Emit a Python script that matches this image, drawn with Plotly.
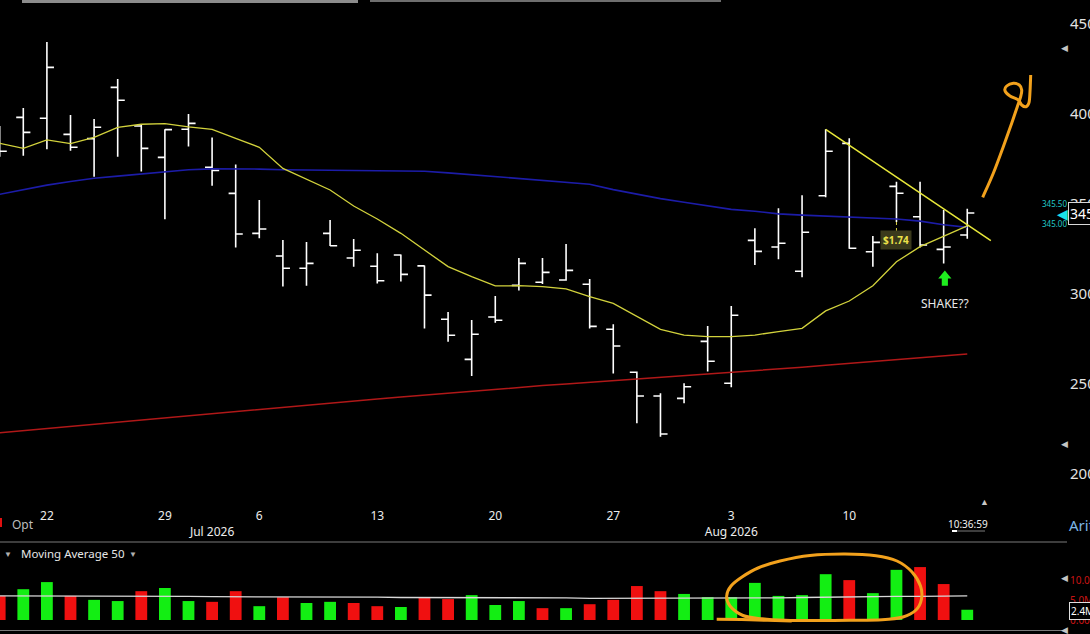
import plotly.graph_objects as go

# ---------------- data ----------------
dates = ["2026-06-17", "2026-06-18", "2026-06-22", "2026-06-23", "2026-06-24", "2026-06-25",
         "2026-06-26", "2026-06-29", "2026-06-30", "2026-07-01", "2026-07-02", "2026-07-06",
         "2026-07-07", "2026-07-08", "2026-07-09", "2026-07-10", "2026-07-13", "2026-07-14",
         "2026-07-15", "2026-07-16", "2026-07-17", "2026-07-20", "2026-07-21", "2026-07-22",
         "2026-07-23", "2026-07-24", "2026-07-27", "2026-07-28", "2026-07-29", "2026-07-30",
         "2026-07-31", "2026-08-03", "2026-08-04", "2026-08-05", "2026-08-06", "2026-08-07",
         "2026-08-10", "2026-08-11", "2026-08-12", "2026-08-13", "2026-08-14", "2026-08-17"]

opens = [387.0, 398.1, 397.6, 388.7, 386.3, 414.8, 393.3, 375.9, 391.5, 370.4, 355.9, 333.7,
         321.1, 314.3, 333.7, 320.0, 315.4, 321.7, 315.6, 286.0, 263.7, 287.2, 304.8, 306.5,
         307.8, 305.4, 280.4, 256.5, 243.3, 242.0, 273.7, 250.4, 329.8, 326.1, 312.6, 354.6,
         383.7, 323.5, 359.8, 342.9, 324.8, 332.8]
highs = [393.3, 403.3, 440.0, 399.4, 397.2, 419.4, 393.9, 391.5, 400.0, 387.0, 372.0, 352.2,
         330.0, 328.9, 341.1, 330.6, 322.6, 321.9, 315.9, 290.0, 285.6, 298.9, 320.0, 320.0,
         327.8, 308.3, 283.2, 256.9, 244.8, 250.4, 282.2, 293.3, 336.5, 347.6, 354.8, 391.5,
         386.5, 332.2, 362.4, 362.4, 346.7, 347.4]
lows = [376.3, 376.8, 380.4, 379.6, 365.2, 376.3, 368.0, 341.5, 381.9, 360.2, 325.9, 331.0,
        304.1, 304.6, 326.7, 315.2, 305.9, 306.9, 280.9, 273.5, 254.4, 284.0, 301.9, 305.6,
        307.4, 280.9, 255.9, 228.2, 220.7, 239.3, 256.9, 248.2, 316.1, 319.3, 309.3, 353.7,
        325.2, 315.2, 340.0, 325.9, 317.0, 330.7]
closes = [379.3, 389.8, 425.9, 381.5, 392.6, 407.6, 380.9, 391.3, 394.8, 368.7, 333.3, 336.1,
          314.3, 317.0, 326.8, 324.3, 307.4, 310.9, 299.4, 277.1, 277.6, 285.4, 317.0, 312.0,
          313.1, 282.0, 271.1, 243.3, 222.2, 248.5, 262.6, 288.2, 323.7, 328.2, 334.3, 379.3,
          325.4, 328.7, 356.0, 327.2, 326.1, 345.0]
prior_close = 384.0

ma_fast = [383.7, 380.9, 385.6, 383.5, 387.0, 392.6, 394.3, 394.6, 392.9, 391.5, 386.5, 381.5,
           369.8, 363.7, 357.8, 348.9, 341.7, 333.7, 324.4, 315.2, 309.6, 304.5, 304.6, 304.1,
           302.8, 298.5, 294.8, 287.4, 280.4, 277.2, 276.3, 276.3, 277.2, 279.1, 280.9, 290.6,
           296.1, 304.6, 317.9, 326.3, 332.2, 337.8]
ma_mid = [355.4, 358.0, 360.5, 362.5, 364.3, 365.5, 366.7, 368.0, 369.0, 369.5, 369.6, 369.4,
          369.0, 368.8, 368.6, 368.5, 368.5, 368.4, 368.2, 367.3, 366.2, 365.0, 364.0, 363.0,
          362.0, 361.0, 358.0, 355.5, 353.0, 351.0, 349.0, 347.0, 346.0, 344.5, 343.8, 343.2,
          342.8, 342.3, 341.7, 340.5, 338.5, 337.0]
ma_slow = [222.9, 224.1, 225.3, 226.5, 227.7, 228.9, 230.1, 231.3, 232.5, 233.7, 234.9, 236.1,
           237.3, 238.4, 239.5, 240.6, 241.7, 242.8, 243.9, 245.0, 246.1, 247.1, 248.1, 249.1,
           250.0, 250.9, 251.8, 252.7, 253.6, 254.5, 255.4, 256.3, 257.3, 258.3, 259.3, 260.4,
           261.5, 262.6, 263.7, 264.7, 265.7, 266.7]

volumes = [6.1, 7.8, 9.6, 6.1, 5.1, 4.8, 7.3, 8.1, 4.8, 4.6, 7.3, 3.5, 5.8, 4.3, 4.6, 4.3,
           3.5, 3.3, 5.6, 5.3, 6.3, 3.8, 4.8, 3.0, 3.0, 4.0, 5.1, 8.6, 7.3, 6.6, 5.8, 5.8,
           9.4, 6.1, 6.3, 11.6, 10.1, 6.8, 12.7, 13.4, 9.1, 2.6]
volume_ma = [6.1, 6.1, 6.1, 6.1, 6.0, 6.0, 6.0, 6.0, 6.0, 5.9, 5.9, 5.9, 5.9, 5.8, 5.8, 5.8,
             5.8, 5.7, 5.7, 5.7, 5.7, 5.6, 5.6, 5.6, 5.6, 5.5, 5.5, 5.5, 5.5, 5.5, 5.5, 5.5,
             5.6, 5.6, 5.7, 5.8, 5.8, 5.9, 6.0, 6.0, 6.1, 6.1]

tick_dates = ["2026-06-22", "2026-06-29", "2026-07-01", "2026-07-06", "2026-07-13",
              "2026-07-20", "2026-07-27", "2026-08-03", "2026-08-10"]
tick_labels = ["22", "29", "<br>Jul 2026", "6", "13", "20", "27", "3<br>Aug 2026", "10"]
price_ticks = [200, 250, 300, 350, 400, 450]
volume_ticks = [0, 5, 10]
volume_tick_labels = ["0.00", "5.0M", "10.0M"]

last_price_label = "345"
last_price_hi = "345.50"
last_price_lo = "345.00"
last_volume_label = "2.4M"
dividend_label = "$1.74"
dividend_date = "2026-08-12"
trend_start_date = "2026-08-07"
signal_date = "2026-08-14"

# ---------------- layout helpers ----------------
W, H = 1090, 634
ML, MR = 0, 30
PW = W - ML - MR


def px(xp):
    return (xp - ML) / PW


def py(yp):
    return 1 - yp / H


def smooth_path(points, closed=False):
    pts = [(px(a), py(b)) for a, b in points]
    if closed:
        pts = pts + [pts[0]]
    d = "M{:.5f},{:.5f}".format(*pts[0])
    n = len(pts)
    for i in range(n - 1):
        p0 = pts[i - 1] if i > 0 else (pts[-2] if closed else pts[i])
        p1 = pts[i]
        p2 = pts[i + 1]
        p3 = pts[i + 2] if i + 2 < n else (pts[1] if closed else p2)
        c1 = (p1[0] + (p2[0] - p0[0]) / 6, p1[1] + (p2[1] - p0[1]) / 6)
        c2 = (p2[0] - (p3[0] - p1[0]) / 6, p2[1] - (p3[1] - p1[1]) / 6)
        d += " C{:.5f},{:.5f} {:.5f},{:.5f} {:.5f},{:.5f}".format(c1[0], c1[1], c2[0], c2[1], p2[0], p2[1])
    return d


x = list(range(len(dates)))
tickvals = [dates.index(d) for d in tick_dates]
prev = [prior_close] + closes[:-1]
vol_colors = ["#13ee13" if c >= p else "#f01010" for c, p in zip(closes, prev)]

FONT = "Noto Sans"

fig = go.Figure()

fig.add_trace(go.Scatter(x=x, y=ma_slow, mode="lines", line=dict(color="#b01818", width=1.5),
                         hoverinfo="skip", xaxis="x", yaxis="y"))
fig.add_trace(go.Scatter(x=x, y=ma_mid, mode="lines", line=dict(color="#1c1ca8", width=1.6),
                         hoverinfo="skip", xaxis="x", yaxis="y"))
fig.add_trace(go.Scatter(x=x, y=ma_fast, mode="lines", line=dict(color="#d2d23c", width=1.3),
                         hoverinfo="skip", xaxis="x", yaxis="y"))
fig.add_trace(go.Ohlc(x=x, open=opens, high=highs, low=lows, close=closes,
                      increasing=dict(line=dict(color="#ffffff", width=1.6)),
                      decreasing=dict(line=dict(color="#ffffff", width=1.6)),
                      tickwidth=0.3, hoverinfo="skip", xaxis="x", yaxis="y"))

fig.add_trace(go.Bar(x=x, y=volumes, marker=dict(color=vol_colors, line=dict(width=0)),
                     width=0.5, hoverinfo="skip", xaxis="x2", yaxis="y2"))
fig.add_trace(go.Scatter(x=x, y=volume_ma, mode="lines", line=dict(color="#d8d8d8", width=1.3),
                         hoverinfo="skip", xaxis="x2", yaxis="y2"))

x_range = [0.0127, 44.93]

fig.update_layout(
    width=W, height=H,
    margin=dict(l=ML, r=MR, t=0, b=0, pad=0),
    paper_bgcolor="#000000", plot_bgcolor="#000000",
    showlegend=False,
    font=dict(family=FONT, color="#e6e6e6"),
    xaxis=dict(domain=[0, 1], range=x_range, anchor="y", showgrid=False, zeroline=False,
               showline=False, ticks="", tickvals=tickvals, ticktext=tick_labels,
               tickfont=dict(size=12, color="#ececec", family=FONT), ticklabelstandoff=2,
               rangeslider=dict(visible=False), automargin=False, fixedrange=True),
    yaxis=dict(domain=[py(505), py(0)], range=[182.78, 463.33], side="right", anchor="x",
               showgrid=False, zeroline=False, showline=False, ticks="",
               tickvals=price_ticks, tickfont=dict(size=15, color="#e2e2e2", family=FONT),
               ticklabelstandoff=9, automargin=False, fixedrange=True),
    xaxis2=dict(domain=[0, 1], range=x_range, anchor="y2", matches="x", showgrid=False,
                zeroline=False, showline=False, showticklabels=False, ticks="",
                rangeslider=dict(visible=False), automargin=False),
    yaxis2=dict(domain=[py(630), py(542)], range=[-2.53, 19.75], side="right", anchor="x2",
                showgrid=False, zeroline=False, showline=False, ticks="",
                tickvals=volume_ticks, ticktext=volume_tick_labels,
                tickfont=dict(size=10, color="#c81414", family=FONT),
                ticklabelstandoff=9, automargin=False),
)

shapes = []
# top tab bars
shapes.append(dict(type="rect", xref="paper", yref="paper", x0=px(22), x1=px(358), y0=py(3), y1=py(0),
                   fillcolor="#8c8c8c", line=dict(width=0), layer="above"))
shapes.append(dict(type="rect", xref="paper", yref="paper", x0=px(370), x1=px(721), y0=py(2), y1=py(0),
                   fillcolor="#6e6e6e", line=dict(width=0), layer="above"))
# panel separators
for yl in (542, 630.5):
    shapes.append(dict(type="line", xref="paper", yref="paper", x0=px(0), x1=px(1067), y0=py(yl), y1=py(yl),
                       line=dict(color="#7a7a7a", width=1)))
# red marker next to "Opt"
shapes.append(dict(type="rect", xref="paper", yref="paper", x0=px(0), x1=px(2), y0=py(527), y1=py(518),
                   fillcolor="#e01010", line=dict(width=0)))
# clock underline
shapes.append(dict(type="line", xref="paper", yref="paper", x0=px(952), x1=px(985), y0=py(531), y1=py(531),
                   line=dict(color="#7a7a7a", width=1)))
shapes.append(dict(type="line", xref="paper", yref="paper", x0=px(952), x1=px(957), y0=py(531), y1=py(531),
                   line=dict(color="#ffffff", width=2)))

# trend line from the Aug 7 high
t0 = dates.index(trend_start_date)
shapes.append(dict(type="line", xref="x", yref="y", x0=t0, y0=highs[t0], x1=t0 + 7.0, y1=329.6,
                   line=dict(color="#e8e83a", width=1.5)))

# dividend tick
di = dates.index(dividend_date)
shapes.append(dict(type="line", xref="x", yref="y", x0=di, x1=di, y0=lows[di], y1=lows[di] - 5.5,
                   line=dict(color="#d8d040", width=1, dash="dot")))

# green arrow under the Aug 14 bar
si = dates.index(signal_date) + 0.05
arrow = [(si, 313.0), (si - 0.28, 308.6), (si - 0.13, 308.6), (si - 0.13, 304.6),
         (si + 0.13, 304.6), (si + 0.13, 308.6), (si + 0.28, 308.6)]
shapes.append(dict(type="path", xref="x", yref="y",
                   path="M" + " L".join("{:.3f},{:.2f}".format(a, b) for a, b in arrow) + " Z",
                   fillcolor="#1fee1f", line=dict(width=0)))

# hand-drawn orange marks
ORANGE = "#f2a11c"
scribble = [(982.7, 197.3), (993.3, 173.3), (1003.3, 146.7), (1011.7, 123.3), (1017.3, 106.7),
            (1020.7, 96.7), (1021.7, 90), (1019.3, 85), (1013.3, 83.3), (1006.7, 86), (1005, 90.7),
            (1010, 96), (1018.3, 100), (1021.7, 105), (1026, 106.7), (1029, 102.7), (1030, 91.7),
            (1030.7, 75)]
shapes.append(dict(type="path", xref="paper", yref="paper", path=smooth_path(scribble),
                   line=dict(color=ORANGE, width=3), layer="above"))
ellipse = [(743, 615.5), (730, 606), (726.7, 596), (731, 586), (742, 577), (758, 568), (780, 561),
           (810, 555.5), (845, 554), (876, 555.7), (897, 561), (912, 572), (920.5, 586), (921.5, 599),
           (916, 610), (903, 617), (882, 619.8), (850, 620.3), (815, 620.6), (785, 620.3), (762, 618.8)]
shapes.append(dict(type="path", xref="paper", yref="paper", path=smooth_path(ellipse, closed=True),
                   line=dict(color=ORANGE, width=3), layer="above"))
tail = [(716.7, 619.2), (750, 619.8), (791.7, 621.0)]
shapes.append(dict(type="path", xref="paper", yref="paper", path=smooth_path(tail),
                   line=dict(color=ORANGE, width=3), layer="above"))

fig.update_layout(shapes=shapes)

ann = []


def note(text, xp, yp, size, color, xanchor="center", **kw):
    ann.append(dict(text=text, x=px(xp), y=py(yp), xref="paper", yref="paper", showarrow=False,
                    xanchor=xanchor, yanchor="middle", font=dict(size=size, color=color, family=FONT), **kw))


note("Opt", 23, 524, 12, "#bdbdbd")
note("10:36:59", 968, 523.5, 10, "#f0f0f0")
note("▲", 984, 501, 9, "#c8c8c8")
note("Arit", 1067, 525, 15, "#7db6e6", xanchor="left")
note("▼", 8, 553, 8, "#b0b0b0")
note("Moving Average 50", 19, 553, 11.5, "#e6e6e6", xanchor="left")
note("▼", 133, 553, 8, "#b0b0b0")
for yy in (48, 443, 577, 629):
    note("◀", 1064, yy, 9, "#c4c4c4")
# last price markers
note(last_price_hi, 1054, 203, 8, "#20c8c8")
note(last_price_lo, 1054, 223, 8, "#20c8c8")
note("◀", 1062, 213, 14, "#19e3ea")
note(last_price_label, 1068, 213, 14, "#ffffff", xanchor="left", bgcolor="#000000",
     bordercolor="#d8d8d8", borderwidth=1, borderpad=1)
note(last_volume_label, 1069, 611, 10, "#ffffff", xanchor="left", bgcolor="#000000",
     bordercolor="#e0e0e0", borderwidth=1, borderpad=1)

# data-anchored notes
ann.append(dict(text="<b>" + dividend_label + "</b>", x=di, y=330.0, xref="x", yref="y", showarrow=False,
                font=dict(size=10, color="#ece24a", family=FONT), bgcolor="#3b3a1c", borderpad=2))
ann.append(dict(text="SHAKE??", x=dates.index(signal_date) + 0.05, y=294.8, xref="x", yref="y",
                showarrow=False, font=dict(size=12, color="#e8e8e8", family=FONT)))

fig.update_layout(annotations=ann)

fig.write_html("out.html", config={"displayModeBar": False},
               post_script="document.body.style.margin='0';document.body.style.overflow='hidden';"
                           "document.body.style.background='#000';")
